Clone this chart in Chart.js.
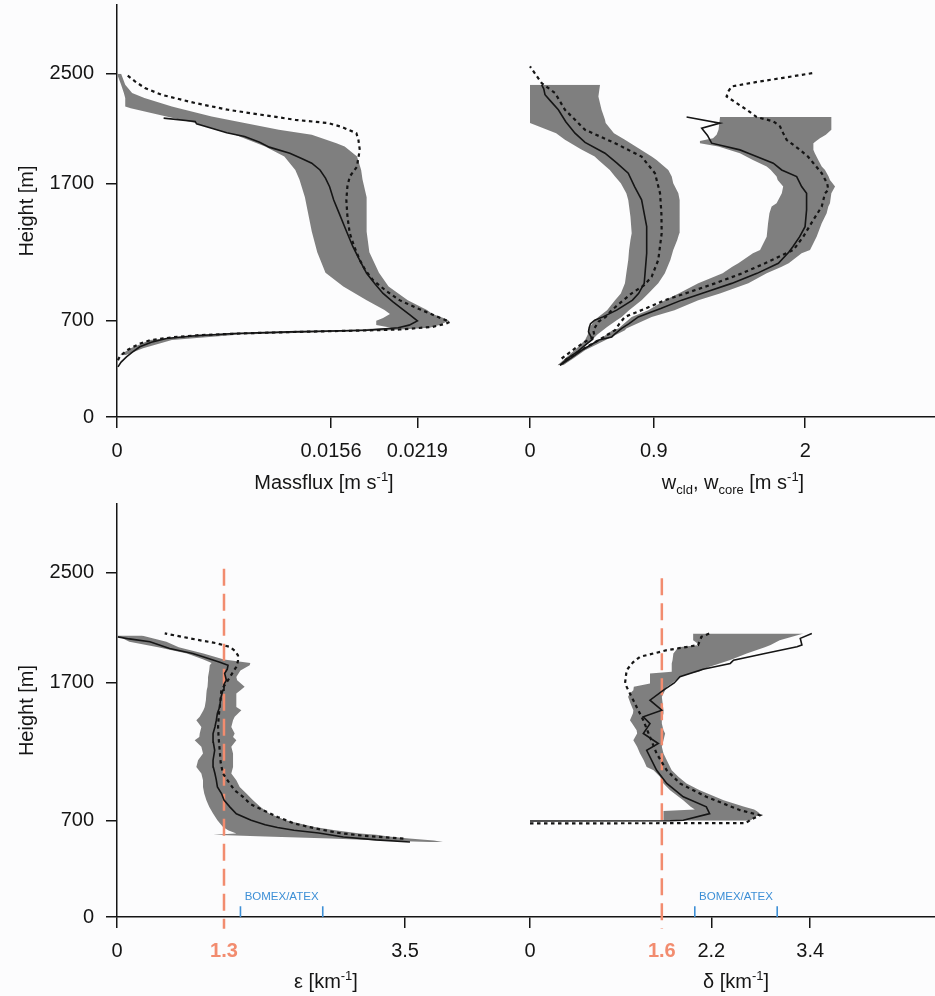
<!DOCTYPE html>
<html>
<head>
<meta charset="utf-8">
<script src="https://cdn.jsdelivr.net/npm/chart.js@4.4.0/dist/chart.umd.min.js"></script>
<style>
  html, body { margin: 0; padding: 0; background: #fcfcfd; }
  #wrap { position: relative; width: 935px; height: 996px; }
  canvas { position: absolute; }
</style>
</head>
<body>
<div id="wrap">
  <canvas id="mf" width="515" height="500" style="left:0;top:0"></canvas>
  <canvas id="w" width="420" height="500" style="left:515px;top:0"></canvas>
  <canvas id="eps" width="515" height="496" style="left:0;top:500px"></canvas>
  <canvas id="del" width="420" height="496" style="left:515px;top:500px"></canvas>
</div>
<script>
const ink = '#151515';
const bandGrey = '#7f7f7f';
const salmon = '#f28c6f';
const blue = '#3d8fd6';
const family = '"Liberation Sans", Arial, Helvetica, sans-serif';

// tick positions
const heightTicks = [0, 700, 1700, 2500];
const mfTicks = [0, 0.0156, 0.0219];
const wTicks = [0, 0.9, 2];
const epsTicks = [0, 1.3, 3.5];
const delTicks = [0, 1.6, 2.2, 3.4];

// reference values (red dashed) and BOMEX/ATEX ranges
const epsRef = 1.3, epsRefTop = 2530;
const delRef = 1.6, delRefTop = 2460;
const epsBomex = [1.5, 2.5];
const delBomex = [2.0, 3.0];

// --- massflux ---
const mfBandH = [450,500,560,600,630,650,670,700,720,750,780,850,950,1050,1200,1350,1500,1600,1730,1799,1896,1969,1994,2055,2091,2140,2188,2249,2261,2322,2359,2420,2500];
const mfBandLo = [0.0002,0.0010,0.0024,0.0060,0.0160,0.0200,0.0189,0.0189,0.0194,0.0199,0.0195,0.0182,0.0165,0.0152,0.0146,0.0142,0.0139,0.0137,0.0133,0.0130,0.0122,0.0108,0.0102,0.0086,0.0072,0.0057,0.0036,0.0010,0.0006,0.0006,0.0005,0.0003,0.0000];
const mfBandHi = [0.0006,0.0019,0.0040,0.0090,0.0195,0.0228,0.0235,0.0242,0.0238,0.0230,0.0226,0.0212,0.0198,0.0191,0.0184,0.0182,0.0182,0.0182,0.0179,0.0178,0.0175,0.0166,0.0160,0.0142,0.0118,0.0093,0.0069,0.0045,0.0040,0.0020,0.0011,0.0006,0.0003];
const mfMeanH = [365,400,438,470,511,545,572,590,608,620,632,650,669,700,740,778,840,900,970,1046,1140,1240,1360,1483,1580,1677,1740,1799,1848,1880,1920,1965,2000,2043,2070,2103,2135,2152,2176];
const mfMean = [0.00007,0.0003,0.00069,0.0011,0.00166,0.0025,0.0036,0.0055,0.0085,0.0125,0.0182,0.0205,0.0213,0.0219,0.0214,0.0209,0.0201,0.0194,0.0188,0.0182,0.0177,0.0172,0.0167,0.0162,0.0158,0.0155,0.0152,0.0148,0.0142,0.0135,0.0126,0.0111,0.0104,0.0093,0.0080,0.0069,0.0058,0.0057,0.0034];
const mfDashH = [414,440,462,490,511,535,559,580,596,610,620,630,637,656,680,693,720,754,800,851,920,997,1070,1143,1240,1338,1460,1581,1680,1751,1823,1872,1945,2018,2067,2103,2115,2140,2164,2201,2237,2286,2346,2395,2444,2492];
const mfDash = [0.00007,0.0002,0.00044,0.0008,0.00117,0.0017,0.0024,0.0040,0.0060,0.0095,0.0133,0.0180,0.0206,0.0230,0.0240,0.02426,0.0236,0.0228,0.0217,0.0206,0.0196,0.01866,0.0181,0.0177,0.0173,0.01697,0.0168,0.01672,0.0168,0.01697,0.0175,0.01757,0.0177,0.0176,0.01745,0.0166,0.0163,0.0154,0.0130,0.0105,0.0081,0.0057,0.00326,0.00204,0.00131,0.00071];

// --- w_cld ---
const cldBandH = [377,430,500,560,600,632,656,705,729,778,851,900,973,1046,1143,1216,1289,1338,1459,1581,1629,1702,1751,1799,1872,1896,1950,2018,2067,2140,2164,2237,2334,2419];
const cldBandLo = [0.20,0.26,0.34,0.40,0.42,0.424,0.436,0.47,0.497,0.56,0.618,0.66,0.69,0.70,0.714,0.72,0.73,0.739,0.73,0.714,0.70,0.66,0.618,0.58,0.497,0.47,0.37,0.254,0.19,0,0,0,0,0];
const cldBandHi = [0.24,0.31,0.38,0.45,0.49,0.53,0.56,0.63,0.666,0.72,0.811,0.86,0.932,0.98,1.02,1.041,1.07,1.085,1.09,1.085,1.078,1.041,1.03,1.005,0.92,0.884,0.80,0.69,0.61,0.55,0.545,0.52,0.497,0.509];
const cldMeanH = [377,430,480,530,565,590,620,650,680,705,729,778,851,900,973,1046,1192,1386,1581,1678,1775,1850,1921,2000,2067,2150,2237,2300,2347,2390,2419];
const cldMean = [0.218,0.28,0.35,0.41,0.455,0.44,0.425,0.43,0.44,0.47,0.53,0.63,0.745,0.79,0.83,0.836,0.848,0.848,0.811,0.76,0.714,0.63,0.545,0.40,0.327,0.26,0.206,0.15,0.109,0.10,0.085];
const cldDashH = [426,499,560,584,632,693,729,778,851,900,960,1021,1143,1338,1480,1629,1775,1896,1994,2091,2237,2359,2431,2553];
const cldDash = [0.23,0.327,0.42,0.47,0.46,0.497,0.55,0.594,0.68,0.739,0.83,0.884,0.932,0.957,0.955,0.945,0.908,0.811,0.618,0.40,0.254,0.182,0.085,0];

// --- w_core ---
const coreBandH = [377,430,486,560,632,645,729,778,851,900,973,1046,1094,1119,1192,1216,1313,1411,1484,1532,1556,1629,1678,1726,1751,1799,1824,1872,1921,1945,1969,1994,2010,2030,2055,2091,2184];
const coreBandLo = [0.20,0.28,0.36,0.50,0.60,0.642,0.739,0.86,0.981,1.08,1.223,1.40,1.47,1.514,1.62,1.672,1.72,1.73,1.74,1.756,1.792,1.83,1.84,1.80,1.792,1.75,1.72,1.62,1.526,1.45,1.369,1.235,1.235,1.33,1.356,1.37,1.381];
const coreBandHi = [0.24,0.32,0.40,0.55,0.69,0.70,0.884,1.05,1.223,1.38,1.587,1.72,1.829,1.88,1.974,2.035,2.083,2.12,2.156,2.168,2.18,2.19,2.217,2.18,2.17,2.144,2.12,2.095,2.07,2.06,2.06,2.059,2.08,2.107,2.15,2.19,2.19];
const coreMeanH = [377,430,486,530,560,583,608,645,680,729,790,851,910,973,1046,1119,1200,1240,1313,1386,1508,1629,1678,1751,1799,1848,1921,1945,1994,2050,2103,2140,2184];
const coreMean = [0.218,0.30,0.376,0.45,0.50,0.594,0.62,0.666,0.72,0.787,0.95,1.102,1.28,1.466,1.65,1.805,1.88,1.91,1.96,1.999,2.01,2.01,1.974,1.938,1.829,1.768,1.587,1.526,1.32,1.29,1.248,1.381,1.138];
const coreDashH = [414,486,559,632,680,729,790,851,910,973,1042,1119,1216,1265,1313,1435,1532,1629,1654,1700,1775,1848,1896,1945,2018,2067,2116,2153,2184,2237,2261,2300,2334,2370,2407,2440,2468,2505];
const coreDash = [0.254,0.37,0.497,0.618,0.65,0.69,0.84,0.981,1.16,1.344,1.53,1.708,1.914,1.95,1.986,2.059,2.12,2.144,2.168,2.16,2.12,2.06,2.02,1.962,1.865,1.84,1.817,1.768,1.648,1.575,1.538,1.48,1.429,1.44,1.466,1.65,1.829,2.059];

// --- entrainment epsilon ---
const epsBandH = [545,555,570,585,597,606,630,654,703,751,800,848,897,945,994,1042,1090,1139,1187,1236,1284,1308,1333,1381,1430,1454,1502,1526,1575,1623,1648,1672,1720,1744,1790,1829,1845,1870,1914,1960,2000,2045];
const epsBandLo = [3.80,3.20,2.60,1.80,1.17,1.45,1.35,1.288,1.22,1.167,1.12,1.086,1.06,1.045,1.045,1.025,0.964,0.985,1.045,1.025,0.944,1.00,1.005,1.025,0.964,1.005,1.05,1.066,1.08,1.086,1.09,1.10,1.106,1.106,1.12,1.127,1.15,1.05,0.85,0.50,0.15,0];
const epsBandHi = [3.96,3.85,3.55,3.30,3.15,2.95,2.65,2.40,2.05,1.85,1.74,1.653,1.572,1.491,1.45,1.389,1.41,1.41,1.41,1.389,1.45,1.41,1.43,1.389,1.41,1.43,1.511,1.45,1.45,1.45,1.50,1.551,1.46,1.45,1.50,1.612,1.62,1.30,1.05,0.75,0.60,0.30];
const epsMeanH = [545,560,581,610,630,650,670,703,750,800,850,897,945,994,1042,1090,1139,1211,1270,1333,1380,1430,1480,1526,1590,1648,1690,1720,1769,1800,1829,1850,1890,1914,1950,1999,2020,2035];
const epsMean = [3.56,3.15,2.75,2.45,2.15,1.95,1.80,1.63,1.45,1.37,1.30,1.27,1.22,1.207,1.19,1.17,1.167,1.187,1.17,1.167,1.19,1.207,1.22,1.248,1.26,1.288,1.30,1.329,1.308,1.34,1.349,1.25,1.045,0.92,0.64,0.40,0.15,0.01];
const epsDashH = [570,590,610,642,680,727,776,820,873,920,970,1042,1120,1211,1300,1381,1450,1526,1590,1648,1720,1770,1817,1860,1900,1935,1962,1990,2011,2040,2060];
const epsDash = [3.48,3.00,2.70,2.42,2.15,1.95,1.774,1.62,1.531,1.43,1.369,1.288,1.26,1.248,1.235,1.228,1.235,1.248,1.26,1.268,1.349,1.40,1.45,1.47,1.47,1.43,1.37,1.20,1.00,0.75,0.58];

// --- detrainment delta ---
const delBandH = [700,720,751,770,780,800,848,921,970,1018,1066,1090,1139,1187,1236,1284,1333,1357,1405,1429,1480,1502,1550,1599,1623,1647,1672,1696,1745,1769,1781,1817,1841,1866,1914,1960,1975,2011,2060];
const delBandLo = [1.62,1.62,1.62,1.62,2.0,1.95,1.86,1.70,1.62,1.578,1.50,1.416,1.38,1.335,1.30,1.254,1.30,1.294,1.24,1.213,1.25,1.254,1.22,1.19,1.213,1.254,1.26,1.456,1.456,1.456,1.72,1.72,1.72,1.73,1.74,1.80,2.06,1.98,1.98];
const delBandHi = [2.67,2.72,2.79,2.75,2.72,2.60,2.35,2.06,1.90,1.80,1.72,1.70,1.66,1.62,1.60,1.62,1.64,1.62,1.60,1.60,1.62,1.62,1.61,1.60,1.62,1.64,1.66,1.72,1.82,1.95,2.05,2.18,2.30,2.43,2.63,2.85,2.92,3.03,3.32];
const delMeanH = [697,699,703,751,800,873,970,1066,1211,1260,1333,1405,1454,1502,1575,1648,1700,1745,1800,1842,1866,1914,1963,1976,2024,2060];
const delMean = [0,1.70,1.86,2.18,2.14,1.86,1.66,1.537,1.416,1.557,1.375,1.456,1.375,1.60,1.456,1.62,1.75,1.82,2.10,2.43,2.47,2.85,3.24,3.30,3.28,3.42];
const delDashH = [680,682,703,739,776,873,970,1066,1187,1308,1429,1526,1623,1696,1793,1850,1890,1938,1975,2035,2060];
const delDash = [0,2.62,2.67,2.79,2.55,2.14,1.82,1.66,1.537,1.456,1.375,1.294,1.213,1.153,1.173,1.25,1.335,1.66,2.04,2.08,2.18];

const pts = (vals, hs) => vals.map((v, i) => ({ x: v, y: hs[i] }));

function bandSets(lo, hi, hs) {
  return [
    { data: pts(lo, hs), borderWidth: 0, borderColor: 'rgba(0,0,0,0)', fill: false },
    { data: pts(hi, hs), borderWidth: 0, borderColor: 'rgba(0,0,0,0)', fill: '-1', backgroundColor: bandGrey }
  ];
}
const meanSet = (v, h) => ({ data: pts(v, h), borderColor: ink, borderWidth: 1.6, fill: false });
const dashSet = (v, h) => ({ data: pts(v, h), borderColor: ink, borderWidth: 2.2, borderDash: [3.5, 3.5], fill: false });
const refSet = (v, top) => ({ data: [{ x: v, y: top }, { x: v, y: -85 }], borderColor: salmon, borderWidth: 2.5, borderDash: [17, 8], fill: false, clip: false });
const bracketSets = r => r.map(v => ({ data: [{ x: v, y: 0 }, { x: v, y: 78 }], borderColor: blue, borderWidth: 1.6, fill: false }));

// axis title with sub/superscripts
const axisLabel = {
  id: 'axisLabel',
  afterDraw(chart, args, o) {
    if (!o || !o.parts) return;
    const ctx = chart.ctx;
    const fontOf = k => (k === 'n' ? 20 : 13) + 'px ' + family;
    ctx.save();
    ctx.fillStyle = ink;
    ctx.textAlign = 'left';
    ctx.textBaseline = 'alphabetic';
    let w = 0;
    o.parts.forEach(([t, k]) => { ctx.font = fontOf(k); w += ctx.measureText(t).width; });
    let x = o.cx - w / 2;
    o.parts.forEach(([t, k]) => {
      ctx.font = fontOf(k);
      const dy = k === 'sub' ? 5 : k === 'sup' ? -8 : 0;
      ctx.fillText(t, x, o.baseline + dy);
      x += ctx.measureText(t).width;
    });
    ctx.restore();
  }
};

// small label above the BOMEX/ATEX bracket
const bracketLabel = {
  id: 'bracketLabel',
  afterDatasetsDraw(chart, args, o) {
    if (!o || o.x === undefined) return;
    const { ctx, scales } = chart;
    ctx.save();
    ctx.font = '11.5px ' + family;
    ctx.fillStyle = blue;
    ctx.textAlign = 'center';
    ctx.textBaseline = 'middle';
    ctx.fillText('BOMEX/ATEX', scales.x.getPixelForValue(o.x), scales.y.getPixelForValue(o.y));
    ctx.restore();
  }
};

function makeChart(id, c) {
  const refs = c.refs || [];
  return new Chart(document.getElementById(id), {
    type: 'line',
    data: { datasets: c.datasets },
    options: {
      responsive: false,
      animation: false,
      devicePixelRatio: 1,
      indexAxis: 'y',
      layout: { padding: { top: c.padTop, left: 0, right: 0, bottom: 0 } },
      elements: { point: { radius: 0 }, line: { tension: 0 } },
      plugins: {
        legend: { display: false },
        tooltip: { enabled: false },
        axisLabel: c.label,
        bracketLabel: c.bracket || {}
      },
      scales: {
        x: {
          type: 'linear', position: 'bottom', min: c.xMin, max: c.xMax,
          afterBuildTicks: s => { s.ticks = c.xTicks.map(v => ({ value: v })); },
          afterFit: s => { s.height = c.xHeight; s.paddingLeft = 0; s.paddingRight = 0; },
          grid: {
            drawOnChartArea: false, tickLength: 11, lineWidth: 1.5,
            color: g => (g.tick && refs.includes(g.tick.value)) ? 'rgba(0,0,0,0)' : ink
          },
          border: { color: ink, width: 1.5 },
          ticks: {
            autoSkip: false, maxRotation: 0, padding: c.tickPad,
            callback: v => String(v),
            color: t => (t.tick && refs.includes(t.tick.value)) ? salmon : ink,
            font: t => ({ family, size: 20, weight: (t.tick && refs.includes(t.tick.value)) ? 'bold' : 'normal' })
          }
        },
        y: {
          type: 'linear', min: 0, max: 3000, display: c.yAxis,
          afterBuildTicks: s => { s.ticks = heightTicks.map(v => ({ value: v })); },
          afterFit: s => { s.width = c.yAxis ? 117 : 0; s.paddingTop = 0; s.paddingBottom = 0; },
          grid: { drawOnChartArea: false, tickLength: 11, lineWidth: 1.5, color: ink },
          border: { color: ink, width: 1.5 },
          ticks: { padding: 12, callback: v => String(v), color: ink, font: { family, size: 20 } },
          title: { display: true, text: 'Height [m]', color: ink, font: { family, size: 20 }, padding: { top: 15, bottom: 0 } }
        }
      }
    },
    plugins: [axisLabel, bracketLabel]
  });
}

makeChart('mf', {
  yAxis: true, padTop: 5, xHeight: 83, tickPad: 11,
  xMin: 0, xMax: 398 / 13716, xTicks: mfTicks,
  label: { cx: 324, baseline: 489, parts: [['Massflux [m s', 'n'], ['-1', 'sup'], [']', 'n']] },
  datasets: [meanSet(mfMean, mfMeanH), dashSet(mfDash, mfDashH), ...bandSets(mfBandLo, mfBandHi, mfBandH)]
});

makeChart('w', {
  yAxis: false, padTop: 5, xHeight: 83, tickPad: 11,
  xMin: -15 / 137.6, xMax: 405 / 137.6, xTicks: wTicks,
  label: { cx: 218, baseline: 489, parts: [['w', 'n'], ['cld', 'sub'], [', w', 'n'], ['core', 'sub'], [' [m s', 'n'], ['-1', 'sup'], [']', 'n']] },
  datasets: [
    meanSet(cldMean, cldMeanH), dashSet(cldDash, cldDashH),
    meanSet(coreMean, coreMeanH), dashSet(coreDash, coreDashH),
    ...bandSets(cldBandLo, cldBandHi, cldBandH),
    ...bandSets(coreBandLo, coreBandHi, coreBandH)
  ]
});

makeChart('eps', {
  yAxis: true, padTop: 4, xHeight: 79, tickPad: 11, refs: [epsRef],
  xMin: 0, xMax: 398 / 82.3, xTicks: epsTicks,
  label: { cx: 326, baseline: 488, parts: [['\u03b5 [km', 'n'], ['-1', 'sup'], [']', 'n']] },
  bracket: { x: (epsBomex[0] + epsBomex[1]) / 2, y: 145 },
  datasets: [
    meanSet(epsMean, epsMeanH), dashSet(epsDash, epsDashH),
    refSet(epsRef, epsRefTop), ...bracketSets(epsBomex),
    ...bandSets(epsBandLo, epsBandHi, epsBandH)
  ]
});

makeChart('del', {
  yAxis: false, padTop: 4, xHeight: 79, tickPad: 11, refs: [delRef],
  xMin: -15 / 82.4, xMax: 405 / 82.4, xTicks: delTicks,
  label: { cx: 221, baseline: 488, parts: [['\u03b4 [km', 'n'], ['-1', 'sup'], [']', 'n']] },
  bracket: { x: (delBomex[0] + delBomex[1]) / 2, y: 150 },
  datasets: [
    meanSet(delMean, delMeanH), dashSet(delDash, delDashH),
    refSet(delRef, delRefTop), ...bracketSets(delBomex),
    ...bandSets(delBandLo, delBandHi, delBandH)
  ]
});
</script>
</body>
</html>
